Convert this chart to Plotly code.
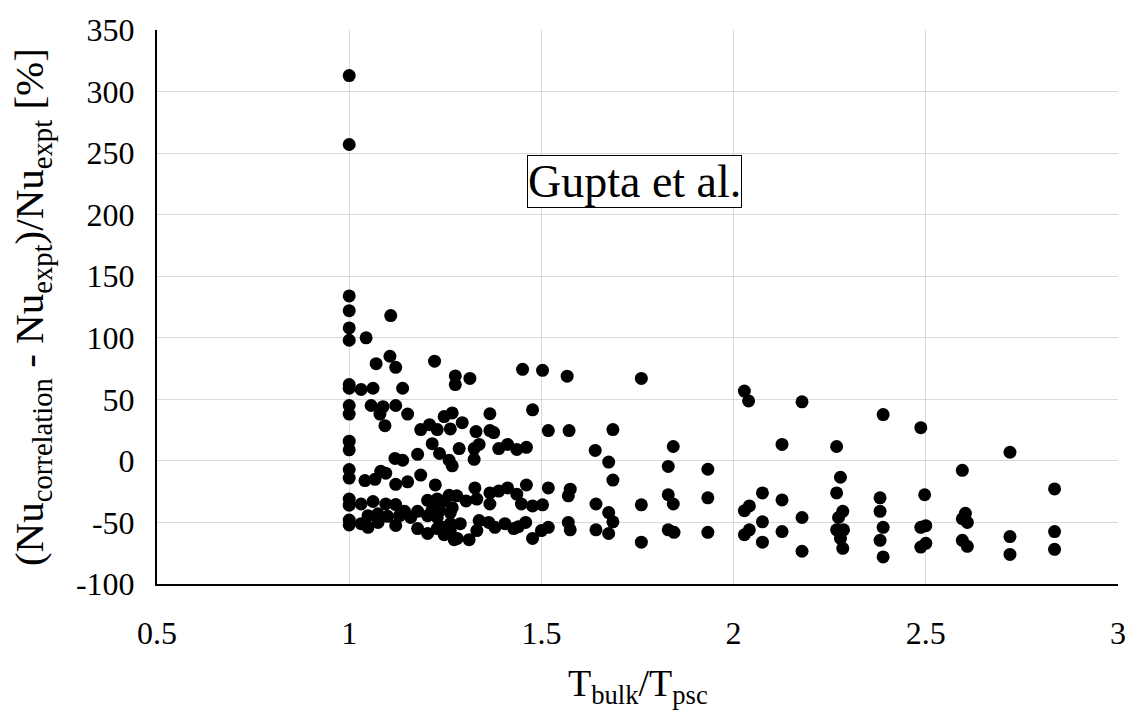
import plotly.graph_objects as go

# Deviation of the correlation from experiment vs. bulk-to-pseudocritical temperature ratio
t_ratio = [
    # T_bulk/T_psc = 1.0 column
    1.0, 1.0, 1.0, 1.0, 1.0, 1.0, 1.0, 1.0, 1.0, 1.0, 1.0, 1.0, 1.0, 1.0, 1.0, 1.0, 1.0, 1.0,
    # 1.03 - 1.27
    1.044, 1.108, 1.106, 1.07, 1.121, 1.222,
    1.031, 1.062, 1.139,
    1.057, 1.088, 1.121, 1.08, 1.152,
    1.093, 1.186, 1.209, 1.229, 1.216, 1.235, 1.247,
    1.119, 1.139, 1.178, 1.26,
    1.041, 1.067, 1.082, 1.095, 1.121, 1.152, 1.186, 1.224,
    1.031, 1.062, 1.095, 1.121, 1.144, 1.178, 1.204, 1.229, 1.247,
    1.049, 1.075, 1.10, 1.131, 1.16, 1.204, 1.229, 1.263,
    1.031, 1.049, 1.075, 1.121, 1.178, 1.204, 1.229, 1.247, 1.273,
    1.216, 1.242, 1.263,
    # 1.25 - 1.6
    1.276, 1.276, 1.314, 1.451, 1.503, 1.567,
    1.268, 1.366, 1.477, 1.294, 1.263, 1.33, 1.366, 1.376, 1.518, 1.572,
    1.286, 1.325, 1.338, 1.389, 1.412, 1.436, 1.461,
    1.268, 1.325,
    1.461, 1.518, 1.575, 1.57,
    1.327, 1.366, 1.389, 1.412, 1.436, 1.448, 1.477, 1.503,
    1.366, 1.332, 1.28, 1.304, 1.26, 1.268, 1.235,
    1.459, 1.57, 1.575, 1.518, 1.50, 1.477, 1.428, 1.405, 1.379, 1.363, 1.338,
    1.332, 1.312, 1.289, 1.281, 1.263, 1.44,
    # 1.6 - 2.1
    1.64, 1.76, 2.028, 2.039, 1.686, 1.675, 1.686, 1.843, 1.83, 1.933,
    1.642, 1.675, 1.686, 1.642, 1.675, 1.76, 1.76, 1.83, 1.843, 1.83, 1.845, 1.933, 1.933,
    2.028, 2.041, 2.028, 2.041, 2.075, 2.075, 2.075,
    # 2.1 - 2.9
    2.178, 2.389, 2.487, 2.126, 2.268, 2.278, 2.126, 2.268, 2.381, 2.497,
    2.178, 2.126, 2.178, 2.284, 2.273, 2.268, 2.286, 2.278, 2.284,
    2.381, 2.389, 2.381, 2.389, 2.487, 2.50, 2.487, 2.50,
    2.595, 2.719, 2.835, 2.603, 2.595, 2.608, 2.595, 2.608, 2.719, 2.719, 2.835, 2.835,
]

nu_deviation = [
    313, 257, 134, 122, 108, 98, 62, 59, 45, 38, 16, 9, -7, -14, -31, -36, -48, -52,
    100, 118, 85, 79, 76, 81,
    58, 59, 59,
    45, 44, 45, 38, 38,
    28.6, 25.4, 29.4, 25.4, 14, 6, 36,
    2, 0.5, 5.3, 0.5,
    -16, -15, -8.5, -10, -19, -17, -11.5, -19.5,
    -35, -33, -35, -35.5, -41, -41, -32, -31, -32.5,
    -44.5, -43, -45, -44.5, -46, -44.5, -46, -42,
    -51, -54, -50, -52.5, -55, -59, -55, -60, -64,
    -40, -54, -51,
    69, 62, 67, 74.4, 73.6, 68.8,
    39, 38.3, 41.5, 31, 26, 23.8, 24.6, 23, 24.6, 24.6,
    10, 10, 13.4, 10, 13.4, 9.3, 11,
    -4, 1.3,
    -19.6, -22, -23, -28.4,
    -22, -26, -24.5, -22, -27, -35, -36.6, -35.7,
    -35, -31, -28.4, -32.5, -28, -38, -40.5,
    -50, -50, -56, -54, -56.6, -63, -55, -51, -54, -50, -48.5,
    -56.6, -64, -51, -63, -56.6, -53.4,
    8.5, 67, 56.7, 48.7, 25.4, -1, -15.6, 11.7, -4.5, -6.8,
    -35, -42, -49.5, -56, -59, -35.7, -66, -27.5, -35, -56, -58, -30, -58,
    -40.5, -36.6, -60, -56, -26, -49.5, -66,
    48, 37.6, 27, 13.4, 11.7, -13.3, -31.7, -26, -30, -27.5,
    -46, -57.4, -73.4, -41, -46, -56, -56, -63, -71,
    -41, -54, -64.5, -78, -54, -52.6, -70, -67,
    -7.7, 7, -22.8, -42.6, -47, -50, -64.5, -69.4, -61.5, -76, -57.4, -71.8,
]

x_tick_vals = [0.5, 1, 1.5, 2, 2.5, 3]
x_tick_text = ["0.5", "1", "1.5", "2", "2.5", "3"]
y_tick_vals = [-100, -50, 0, 50, 100, 150, 200, 250, 300, 350]
y_tick_text = ["-100", "-50", "0", "50", "100", "150", "200", "250", "300", "350"]

FONT = "Liberation Serif, Times New Roman, serif"

fig = go.Figure(
    go.Scatter(
        x=t_ratio,
        y=nu_deviation,
        mode="markers",
        marker=dict(color="black", size=13, line=dict(width=0)),
        showlegend=False,
        hoverinfo="x+y",
    )
)

axis_common = dict(
    showline=True,
    linecolor="black",
    linewidth=2,
    showgrid=True,
    gridcolor="#d9d9d9",
    gridwidth=1,
    zeroline=False,
    ticks="",
    tickfont=dict(family=FONT, size=32, color="black"),
)

fig.update_xaxes(
    range=[0.5, 3],
    tickvals=x_tick_vals,
    ticktext=x_tick_text,
    ticklabelstandoff=20,
    **axis_common,
)
fig.update_yaxes(
    range=[-100, 350],
    tickvals=y_tick_vals,
    ticktext=y_tick_text,
    ticklabelstandoff=14,
    **axis_common,
)

fig.add_annotation(
    text="Gupta et al.",
    xref="paper", yref="paper",
    x=0.497, y=0.727,
    xanchor="center", yanchor="middle",
    showarrow=False,
    font=dict(family=FONT, size=46, color="black"),
    bordercolor="black", borderwidth=1, borderpad=0,
    bgcolor="white",
)

# axis titles
fig.add_annotation(
    text="T<sub>bulk</sub>/T<sub>psc</sub>",
    xref="paper", yref="paper",
    x=0.5, y=-0.185,
    xanchor="center", yanchor="middle",
    showarrow=False,
    font=dict(family=FONT, size=38, color="black"),
)
fig.add_annotation(
    text="(Nu<sub>correlation</sub> - Nu<sub>expt</sub>)/Nu<sub>expt</sub> [%]",
    xref="paper", yref="paper",
    x=-0.13, y=0.5,
    xanchor="center", yanchor="middle",
    textangle=-90,
    showarrow=False,
    font=dict(family=FONT, size=41, color="black"),
)

fig.update_layout(
    width=1138,
    height=711,
    margin=dict(l=157, r=13, t=24, b=127),
    paper_bgcolor="white",
    plot_bgcolor="white",
    font=dict(family=FONT, color="black"),
)

fig.write_html("out.html")
